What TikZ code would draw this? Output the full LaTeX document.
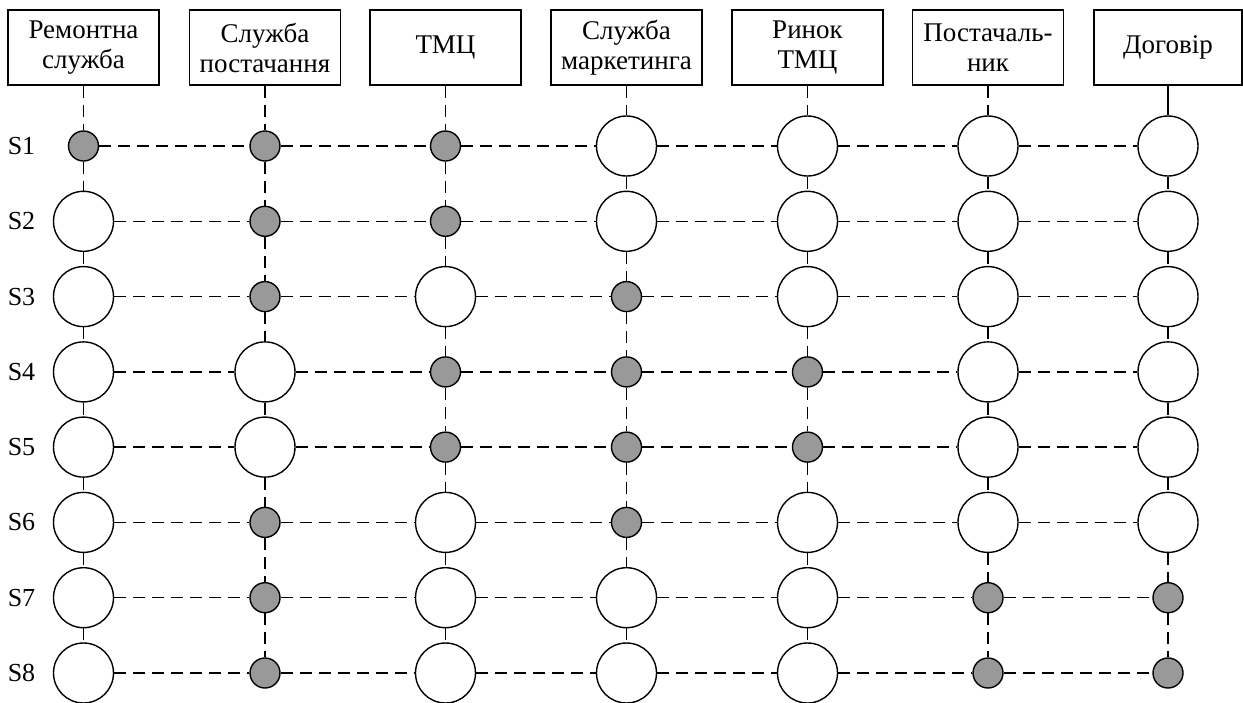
\documentclass[tikz,border=0pt]{standalone}
\usepackage{fontspec}
\setmainfont{Liberation Serif}
\definecolor{stategray}{RGB}{153,153,153}
\begin{document}
\begin{tikzpicture}[x=1pt,y=-1pt,
  hdr/.style={draw,line width=1.3pt,minimum width=151pt,minimum height=75pt,
    inner sep=2pt,align=center,font=\fontsize{27}{30}\selectfont},
  big/.style={circle,draw,line width=1.4pt,fill=white,minimum size=60pt,inner sep=0pt},
  small/.style={circle,draw,line width=1.4pt,fill=stategray,minimum size=30pt,inner sep=0pt},
  link/.style={line width=1.3pt,dash pattern=on 12pt off 7pt},
  solidlink/.style={line width=1.3pt},
  rowlbl/.style={font=\fontsize{26}{30}\selectfont,inner sep=0pt}]

\useasboundingbox (0,0) rectangle (1243,702);

% column headers
\node[hdr] (h1) at (83.5,47.5)  {Ремонтна\\служба};
\node[hdr] (h2) at (265,47.5)   {Служба\\постачання};
\node[hdr] (h3) at (445.5,47.5) {ТМЦ};
\node[hdr] (h4) at (626.5,47.5) {Служба\\маркетинга};
\node[hdr] (h5) at (807.5,47.5) {Ринок\\ТМЦ};
\node[hdr] (h6) at (988,47.5)   {Постачаль-\\ник};
\node[hdr,minimum width=148pt] (h7) at (1168,47.5) {Договір};

% state rows: 1 = active (small grey), 0 = idle (large white)
\foreach \r/\y/\ka/\kb/\kc/\kd/\ke/\kf/\kg in {
    1/146/1/1/1/0/0/0/0,
    2/221.3/0/1/1/0/0/0/0,
    3/296.6/0/1/0/1/0/0/0,
    4/371.9/0/0/1/1/1/0/0,
    5/447.1/0/0/1/1/1/0/0,
    6/522.4/0/1/0/1/0/0/0,
    7/597.7/0/1/0/0/0/1/1,
    8/673/0/1/0/0/0/1/1}{
  \node[rowlbl] (s\r) at (21.5,\y) {S\r};
  \foreach \c/\x/\t in {1/83.5/\ka,2/265/\kb,3/445.5/\kc,4/626.5/\kd,
                        5/807.5/\ke,6/988/\kf,7/1168/\kg}{
    \ifnum\t=1
      \node[small] (c\r-\c) at (\x,\y) {};
    \else
      \node[big] (c\r-\c) at (\x,\y) {};
    \fi
  }
}

% horizontal links within each row
\foreach \r in {1,...,8}{
  \foreach \c [evaluate=\c as \n using int(\c+1)] in {1,...,6}{
    \draw[link] (c\r-\c) -- (c\r-\n);
  }
}

% vertical links within each column
\foreach \c in {1,...,7}{
  \foreach \r [evaluate=\r as \n using int(\r+1)] in {1,...,7}{
    \draw[link] (c\r-\c) -- (c\n-\c);
  }
}

% headers to first row
\foreach \c in {1,...,6}{
  \draw[link] (h\c) -- (c1-\c);
}
\draw[solidlink] (h7) -- (c1-7);

\end{tikzpicture}
\end{document}
